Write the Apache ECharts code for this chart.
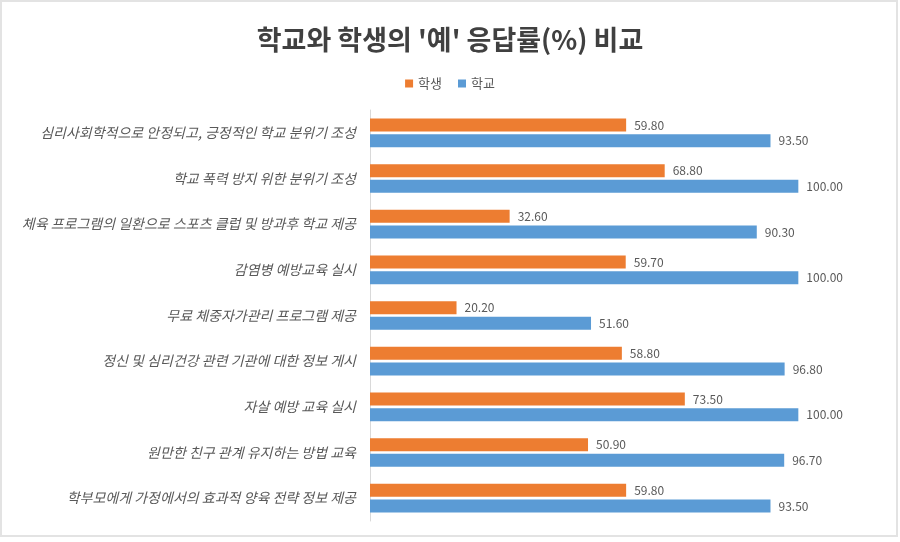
<!DOCTYPE html>
<html>
<head>
<meta charset="utf-8">
<script src="https://cdn.jsdelivr.net/npm/echarts@6/dist/echarts.min.js"></script>
<style>
  html, body { margin: 0; padding: 0; background: #fff; }
  #chart { width: 900px; height: 542px; }
</style>
</head>
<body>
<div id="chart"></div>
<script>
const categories = [
  '심리사회학적으로 안정되고, 긍정적인 학교 분위기 조성',
  '학교 폭력 방지 위한 분위기 조성',
  '체육 프로그램의 일환으로 스포츠 클럽 및 방과후 학교 제공',
  '감염병 예방교육 실시',
  '무료 체중자가관리 프로그램 제공',
  '정신 및 심리건강 관련 기관에 대한 정보 게시',
  '자살 예방 교육 실시',
  '원만한 친구 관계 유지하는 방법 교육',
  '학부모에게 가정에서의 효과적 양육 전략 정보 제공'
];
const studentValues = [59.8, 68.8, 32.6, 59.7, 20.2, 58.8, 73.5, 50.9, 59.8];
const schoolValues = [93.5, 100, 90.3, 100, 51.6, 96.8, 100, 96.7, 93.5];

const chart = echarts.init(document.getElementById('chart'));
const font = '"Noto Sans CJK KR", "Noto Sans", sans-serif';

const labelStyle = {
  show: true,
  position: 'right',
  distance: 8,
  color: '#595959',
  fontSize: 12,
  fontFamily: font,
  formatter: function (p) { return p.value.toFixed(2); }
};

chart.setOption({
  animation: false,
  textStyle: { fontFamily: font },
  title: {
    text: "학교와 학생의 '예' 응답률(%) 비교",
    left: 'center',
    top: 21,
    textStyle: { fontSize: 27, fontWeight: 'bold', color: '#404040', fontFamily: font }
  },
  legend: {
    data: ['학생', '학교'],
    top: 72,
    left: 'center',
    icon: 'rect',
    itemWidth: 8,
    itemHeight: 8,
    itemGap: 16,
    textStyle: { fontSize: 13, color: '#595959', fontFamily: font }
  },
  grid: { left: 370, right: 16, top: 110, bottom: 21 },
  xAxis: {
    type: 'value',
    min: 0,
    max: 120,
    show: false
  },
  yAxis: {
    type: 'category',
    data: categories,
    inverse: true,
    axisLine: { lineStyle: { color: '#d9d9d9' } },
    axisTick: { show: false },
    axisLabel: {
      color: '#595959',
      fontSize: 14,
      fontStyle: 'italic',
      margin: 14,
      fontFamily: font
    }
  },
  series: [
    {
      name: '학생',
      type: 'bar',
      data: studentValues,
      barWidth: 13,
      barGap: '20%',
      itemStyle: { color: '#ED7D31' },
      label: labelStyle
    },
    {
      name: '학교',
      type: 'bar',
      data: schoolValues,
      barWidth: 13,
      itemStyle: { color: '#5B9BD5' },
      label: labelStyle
    }
  ],
  graphic: [{
    type: 'rect',
    silent: true,
    shape: { x: 1, y: 1, width: 896, height: 535 },
    style: { fill: 'none', stroke: '#e3e3e3', lineWidth: 2 }
  }]
});
</script>
</body>
</html>
